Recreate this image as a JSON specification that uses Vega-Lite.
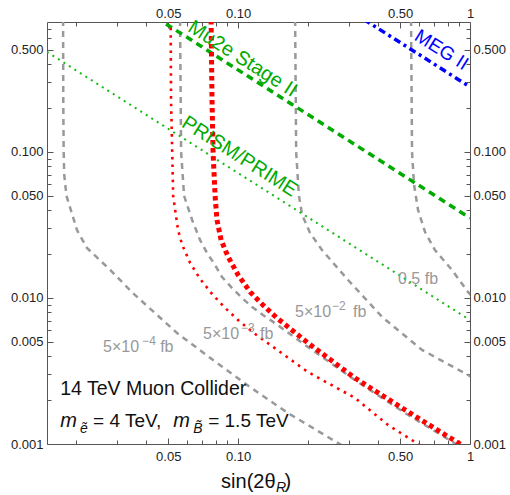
{
  "$schema": "https://vega.github.io/schema/vega-lite/v6.json",
  "width": 423,
  "height": 422,
  "autosize": {"type": "none"},
  "padding": {"left": 47, "top": 22, "right": 40, "bottom": 51},
  "background": "white",
  "config": {
    "view": {"stroke": null},
    "axis": {"domainColor": "#555", "domainWidth": 1, "tickColor": "#555", "tickWidth": 1, "labelFont": "Liberation Sans", "labelFontSize": 13, "labelColor": "#222", "grid": false, "labelFlush": false, "labelOverlap": false},
    "text": {"font": "Liberation Sans"}
  },
  "datasets": {
    "curves": [
      {"c": "g4", "x": 0.0176, "y": 0.8}, {"c": "g4", "x": 0.01763, "y": 0.227}, {"c": "g4", "x": 0.0177, "y": 0.1}, {"c": "g4", "x": 0.0178, "y": 0.0696}, {"c": "g4", "x": 0.0182, "y": 0.05}, {"c": "g4", "x": 0.0202, "y": 0.0292}, {"c": "g4", "x": 0.0223, "y": 0.022}, {"c": "g4", "x": 0.0281, "y": 0.01556}, {"c": "g4", "x": 0.0352, "y": 0.0108}, {"c": "g4", "x": 0.0546, "y": 0.00575}, {"c": "g4", "x": 0.078, "y": 0.00376}, {"c": "g4", "x": 0.1127, "y": 0.00245}, {"c": "g4", "x": 0.164, "y": 0.00163}, {"c": "g4", "x": 0.289, "y": 0.00095}, {"c": "g4", "x": 0.32, "y": 0.00085},
      {"c": "g3", "x": 0.0562, "y": 0.8}, {"c": "g3", "x": 0.0566, "y": 0.2}, {"c": "g3", "x": 0.0568, "y": 0.1}, {"c": "g3", "x": 0.0585, "y": 0.05}, {"c": "g3", "x": 0.0634, "y": 0.0342}, {"c": "g3", "x": 0.0686, "y": 0.0249}, {"c": "g3", "x": 0.0735, "y": 0.0203}, {"c": "g3", "x": 0.0796, "y": 0.0168}, {"c": "g3", "x": 0.0853, "y": 0.0139}, {"c": "g3", "x": 0.0942, "y": 0.0117}, {"c": "g3", "x": 0.104, "y": 0.01}, {"c": "g3", "x": 0.115, "y": 0.00867}, {"c": "g3", "x": 0.128, "y": 0.00765}, {"c": "g3", "x": 0.1416, "y": 0.00686}, {"c": "g3", "x": 0.2, "y": 0.00462}, {"c": "g3", "x": 0.319, "y": 0.00274}, {"c": "g3", "x": 0.525, "y": 0.00163}, {"c": "g3", "x": 0.888, "y": 0.00098}, {"c": "g3", "x": 0.95, "y": 0.0009},
      {"c": "g2", "x": 0.1762, "y": 0.8}, {"c": "g2", "x": 0.178, "y": 0.1}, {"c": "g2", "x": 0.183, "y": 0.05}, {"c": "g2", "x": 0.189, "y": 0.037}, {"c": "g2", "x": 0.2043, "y": 0.0279}, {"c": "g2", "x": 0.23, "y": 0.0213}, {"c": "g2", "x": 0.298, "y": 0.01328}, {"c": "g2", "x": 0.418, "y": 0.00741}, {"c": "g2", "x": 0.621, "y": 0.00441}, {"c": "g2", "x": 0.98, "y": 0.00297}, {"c": "g2", "x": 1.05, "y": 0.0028},
      {"c": "g1", "x": 0.557, "y": 0.8}, {"c": "g1", "x": 0.5624, "y": 0.1}, {"c": "g1", "x": 0.574, "y": 0.0594}, {"c": "g1", "x": 0.597, "y": 0.0401}, {"c": "g1", "x": 0.64, "y": 0.0283}, {"c": "g1", "x": 0.706, "y": 0.0213}, {"c": "g1", "x": 0.836, "y": 0.01556}, {"c": "g1", "x": 0.98, "y": 0.011}, {"c": "g1", "x": 1.05, "y": 0.0098},
      {"c": "T", "x": 0.0765, "y": 0.8}, {"c": "T", "x": 0.0772, "y": 0.227}, {"c": "T", "x": 0.078, "y": 0.1}, {"c": "T", "x": 0.0796, "y": 0.05}, {"c": "T", "x": 0.0811, "y": 0.0342}, {"c": "T", "x": 0.0845, "y": 0.0249}, {"c": "T", "x": 0.0906, "y": 0.0191}, {"c": "T", "x": 0.1, "y": 0.0144}, {"c": "T", "x": 0.1127, "y": 0.011}, {"c": "T", "x": 0.128, "y": 0.00895}, {"c": "T", "x": 0.147, "y": 0.0073}, {"c": "T", "x": 0.2, "y": 0.00492}, {"c": "T", "x": 0.319, "y": 0.00283}, {"c": "T", "x": 0.525, "y": 0.00171}, {"c": "T", "x": 0.924, "y": 0.00098}, {"c": "T", "x": 0.97, "y": 0.00092},
      {"c": "t", "x": 0.0512, "y": 0.8}, {"c": "t", "x": 0.0514, "y": 0.227}, {"c": "t", "x": 0.052, "y": 0.1}, {"c": "t", "x": 0.0525, "y": 0.05}, {"c": "t", "x": 0.0551, "y": 0.0292}, {"c": "t", "x": 0.0574, "y": 0.0231}, {"c": "t", "x": 0.0621, "y": 0.0174}, {"c": "t", "x": 0.0686, "y": 0.0135}, {"c": "t", "x": 0.0773, "y": 0.01064}, {"c": "t", "x": 0.0879, "y": 0.00855}, {"c": "t", "x": 0.101, "y": 0.00696}, {"c": "t", "x": 0.117, "y": 0.00575}, {"c": "t", "x": 0.136, "y": 0.00484}, {"c": "t", "x": 0.2, "y": 0.00311}, {"c": "t", "x": 0.319, "y": 0.00207}, {"c": "t", "x": 0.443, "y": 0.00135}, {"c": "t", "x": 0.609, "y": 0.00098}, {"c": "t", "x": 0.65, "y": 0.00091},
      {"c": "mu2e", "x": 0.04, "y": 0.923}, {"c": "mu2e", "x": 1, "y": 0.0353},
      {"c": "prism", "x": 0.015, "y": 0.484}, {"c": "prism", "x": 1, "y": 0.00706},
      {"c": "meg", "x": 0.3, "y": 0.94}, {"c": "meg", "x": 1, "y": 0.279}
    ],
    "contourBase": [
      {"x": 0.02618, "y": 0.004287, "t": "5×10"},
      {"x": 0.04612, "y": 0.004287, "t": "fb"},
      {"x": 0.07064, "y": 0.005214, "t": "5×10"},
      {"x": 0.12437, "y": 0.005214, "t": "fb"},
      {"x": 0.1761, "y": 0.007444, "t": "5×10"},
      {"x": 0.3132, "y": 0.007444, "t": "fb"},
      {"x": 0.4894, "y": 0.012467, "t": "0.5 fb"}
    ],
    "contourExp": [
      {"x": 0.03857, "y": 0.004786, "t": "−4"},
      {"x": 0.10301, "y": 0.005823, "t": "−3"},
      {"x": 0.2542, "y": 0.008316, "t": "−2"}
    ],
    "lineOne": [
      {"x": 0.0171, "y": 0.002168, "t": "14 TeV Muon Collider"}
    ],
    "plainText": [
      {"x": 0.0237, "y": 0.001307, "t": "= 4 TeV,"},
      {"x": 0.0743, "y": 0.001307, "t": "= 1.5 TeV"}
    ],
    "italicText": [
      {"x": 0.0171, "y": 0.001307, "t": "m"},
      {"x": 0.0525, "y": 0.001307, "t": "m"}
    ],
    "subText": [
      {"x": 0.02084, "y": 0.00119, "t": "ẽ"},
      {"x": 0.064, "y": 0.00119, "t": "B̃"}
    ],
    "greenLabels": [
      {"x": 0.1046, "y": 0.4335, "t": "Mu2e Stage II"},
      {"x": 0.1015, "y": 0.0931, "t": "PRISM/PRIME"}
    ],
    "blueLabels": [
      {"x": 0.754, "y": 0.4996, "t": "MEG II"}
    ],
    "titleMain": [
      {"x": 0.1451, "y": 0.000499, "t": "sin(2θ"}
    ],
    "titleSub": [
      {"x": 0.1456, "y": 0.000469, "t": "R"}
    ],
    "titleEnd": [
      {"x": 0.1586, "y": 0.000499, "t": ")"}
    ]
  },
  "layer": [
    {
      "data": {"name": "curves"},
      "transform": [{"filter": "indexof(['g1','g2','g3','g4'], datum.c) >= 0"}],
      "mark": {"type": "line", "stroke": "#999999", "strokeWidth": 2.5, "strokeDash": [6, 5], "clip": true},
      "encoding": {
        "x": {"field": "x", "type": "quantitative", "scale": {"type": "log", "domain": [0.015, 1], "nice": false},
          "axis": {"orient": "bottom", "title": null, "values": [0.02, 0.03, 0.04, 0.05, 0.06, 0.07, 0.08, 0.09, 0.1, 0.2, 0.3, 0.4, 0.5, 0.6, 0.7, 0.8, 0.9, 1],
            "labelExpr": "datum.value == 1 ? '1' : (indexof([0.05, 0.1, 0.5], datum.value) >= 0 ? format(datum.value, '.2f') : '')",
            "tickSize": {"condition": {"test": "indexof([0.05, 0.1, 0.5, 1], datum.value) >= 0", "value": -6}, "value": -4},
            "labelPadding": 12}},
        "y": {"field": "y", "type": "quantitative", "scale": {"type": "log", "domain": [0.001, 0.776], "nice": false},
          "axis": {"orient": "left", "title": null, "values": [0.001, 0.002, 0.003, 0.004, 0.005, 0.006, 0.007, 0.008, 0.009, 0.01, 0.02, 0.03, 0.04, 0.05, 0.06, 0.07, 0.08, 0.09, 0.1, 0.2, 0.3, 0.4, 0.5, 0.6, 0.7],
            "labelExpr": "indexof([0.001, 0.005, 0.01, 0.05, 0.1, 0.5], datum.value) >= 0 ? format(datum.value, '.3f') : ''",
            "tickSize": {"condition": {"test": "indexof([0.001, 0.005, 0.01, 0.05, 0.1, 0.5], datum.value) >= 0", "value": -6}, "value": -4},
            "labelPadding": 10}},
        "detail": {"field": "c"},
        "order": {"field": "y", "sort": "descending"}
      }
    },
    {
      "data": {"name": "curves"},
      "transform": [{"filter": "datum.c == 'prism'"}],
      "mark": {"type": "line", "stroke": "#11bb11", "strokeWidth": 2, "strokeDash": [2, 4.5], "clip": true},
      "encoding": {
        "x": {"field": "x", "type": "quantitative", "scale": {"type": "log", "domain": [0.015, 1], "nice": false},
          "axis": {"orient": "top", "title": null, "values": [0.02, 0.03, 0.04, 0.05, 0.06, 0.07, 0.08, 0.09, 0.1, 0.2, 0.3, 0.4, 0.5, 0.6, 0.7, 0.8, 0.9, 1],
            "labelExpr": "datum.value == 1 ? '1' : (indexof([0.05, 0.1, 0.5], datum.value) >= 0 ? format(datum.value, '.2f') : '')",
            "tickSize": {"condition": {"test": "indexof([0.05, 0.1, 0.5, 1], datum.value) >= 0", "value": -6}, "value": -4},
            "labelPadding": 8}},
        "y": {"field": "y", "type": "quantitative", "scale": {"type": "log", "domain": [0.001, 0.776], "nice": false},
          "axis": {"orient": "right", "title": null, "values": [0.001, 0.002, 0.003, 0.004, 0.005, 0.006, 0.007, 0.008, 0.009, 0.01, 0.02, 0.03, 0.04, 0.05, 0.06, 0.07, 0.08, 0.09, 0.1, 0.2, 0.3, 0.4, 0.5, 0.6, 0.7],
            "labelExpr": "indexof([0.001, 0.005, 0.01, 0.05, 0.1, 0.5], datum.value) >= 0 ? format(datum.value, '.3f') : ''",
            "tickSize": {"condition": {"test": "indexof([0.001, 0.005, 0.01, 0.05, 0.1, 0.5], datum.value) >= 0", "value": -6}, "value": -4},
            "labelPadding": 9}},
        "order": {"field": "y", "sort": "descending"}
      }
    },
    {
      "data": {"name": "curves"},
      "transform": [{"filter": "datum.c == 'mu2e'"}],
      "mark": {"type": "line", "stroke": "#00aa00", "strokeWidth": 3.5, "strokeDash": [7, 5], "clip": true},
      "encoding": {
        "x": {"field": "x", "type": "quantitative", "scale": {"type": "log", "domain": [0.015, 1], "nice": false}, "axis": null},
        "y": {"field": "y", "type": "quantitative", "scale": {"type": "log", "domain": [0.001, 0.776], "nice": false}, "axis": null},
        "order": {"field": "y", "sort": "descending"}
      }
    },
    {
      "data": {"name": "curves"},
      "transform": [{"filter": "datum.c == 'meg'"}],
      "mark": {"type": "line", "stroke": "#0000ff", "strokeWidth": 3.5, "strokeDash": [7, 4, 3, 4], "clip": true},
      "encoding": {
        "x": {"field": "x", "type": "quantitative", "scale": {"type": "log", "domain": [0.015, 1], "nice": false}, "axis": null},
        "y": {"field": "y", "type": "quantitative", "scale": {"type": "log", "domain": [0.001, 0.776], "nice": false}, "axis": null},
        "order": {"field": "y", "sort": "descending"}
      }
    },
    {
      "data": {"name": "curves"},
      "transform": [{"filter": "datum.c == 't'"}],
      "mark": {"type": "line", "stroke": "#ff0000", "strokeWidth": 2.6, "strokeDash": [2.6, 5], "clip": true},
      "encoding": {
        "x": {"field": "x", "type": "quantitative", "scale": {"type": "log", "domain": [0.015, 1], "nice": false}, "axis": null},
        "y": {"field": "y", "type": "quantitative", "scale": {"type": "log", "domain": [0.001, 0.776], "nice": false}, "axis": null},
        "order": {"field": "y", "sort": "descending"}
      }
    },
    {
      "data": {"name": "curves"},
      "transform": [{"filter": "datum.c == 'T'"}],
      "mark": {"type": "line", "stroke": "#ff0000", "strokeWidth": 5, "strokeDash": [4.5, 3.5], "clip": true},
      "encoding": {
        "x": {"field": "x", "type": "quantitative", "scale": {"type": "log", "domain": [0.015, 1], "nice": false}, "axis": null},
        "y": {"field": "y", "type": "quantitative", "scale": {"type": "log", "domain": [0.001, 0.776], "nice": false}, "axis": null},
        "order": {"field": "y", "sort": "descending"}
      }
    },
    {
      "data": {"name": "contourBase"},
      "mark": {"type": "text", "fill": "#999999", "fontSize": 16, "align": "left", "baseline": "alphabetic"},
      "encoding": {
        "x": {"field": "x", "type": "quantitative", "scale": {"type": "log", "domain": [0.015, 1], "nice": false}, "axis": null},
        "y": {"field": "y", "type": "quantitative", "scale": {"type": "log", "domain": [0.001, 0.776], "nice": false}, "axis": null},
        "text": {"field": "t"}
      }
    },
    {
      "data": {"name": "contourExp"},
      "mark": {"type": "text", "fill": "#999999", "fontSize": 12, "align": "left", "baseline": "alphabetic"},
      "encoding": {
        "x": {"field": "x", "type": "quantitative", "scale": {"type": "log", "domain": [0.015, 1], "nice": false}, "axis": null},
        "y": {"field": "y", "type": "quantitative", "scale": {"type": "log", "domain": [0.001, 0.776], "nice": false}, "axis": null},
        "text": {"field": "t"}
      }
    },
    {
      "data": {"name": "lineOne"},
      "mark": {"type": "text", "fill": "#111111", "fontSize": 19.5, "align": "left", "baseline": "alphabetic"},
      "encoding": {
        "x": {"field": "x", "type": "quantitative", "scale": {"type": "log", "domain": [0.015, 1], "nice": false}, "axis": null},
        "y": {"field": "y", "type": "quantitative", "scale": {"type": "log", "domain": [0.001, 0.776], "nice": false}, "axis": null},
        "text": {"field": "t"}
      }
    },
    {
      "data": {"name": "plainText"},
      "mark": {"type": "text", "fill": "#111111", "fontSize": 19, "align": "left", "baseline": "alphabetic"},
      "encoding": {
        "x": {"field": "x", "type": "quantitative", "scale": {"type": "log", "domain": [0.015, 1], "nice": false}, "axis": null},
        "y": {"field": "y", "type": "quantitative", "scale": {"type": "log", "domain": [0.001, 0.776], "nice": false}, "axis": null},
        "text": {"field": "t"}
      }
    },
    {
      "data": {"name": "italicText"},
      "mark": {"type": "text", "fill": "#111111", "fontSize": 20, "fontStyle": "italic", "align": "left", "baseline": "alphabetic"},
      "encoding": {
        "x": {"field": "x", "type": "quantitative", "scale": {"type": "log", "domain": [0.015, 1], "nice": false}, "axis": null},
        "y": {"field": "y", "type": "quantitative", "scale": {"type": "log", "domain": [0.001, 0.776], "nice": false}, "axis": null},
        "text": {"field": "t"}
      }
    },
    {
      "data": {"name": "subText"},
      "mark": {"type": "text", "fill": "#111111", "fontSize": 14, "fontStyle": "italic", "align": "left", "baseline": "alphabetic"},
      "encoding": {
        "x": {"field": "x", "type": "quantitative", "scale": {"type": "log", "domain": [0.015, 1], "nice": false}, "axis": null},
        "y": {"field": "y", "type": "quantitative", "scale": {"type": "log", "domain": [0.001, 0.776], "nice": false}, "axis": null},
        "text": {"field": "t"}
      }
    },
    {
      "data": {"name": "greenLabels"},
      "mark": {"type": "text", "fill": "#00aa00", "fontSize": 20, "angle": 32.5, "align": "center", "baseline": "middle"},
      "encoding": {
        "x": {"field": "x", "type": "quantitative", "scale": {"type": "log", "domain": [0.015, 1], "nice": false}, "axis": null},
        "y": {"field": "y", "type": "quantitative", "scale": {"type": "log", "domain": [0.001, 0.776], "nice": false}, "axis": null},
        "text": {"field": "t"}
      }
    },
    {
      "data": {"name": "blueLabels"},
      "mark": {"type": "text", "fill": "#0000ff", "fontSize": 19, "angle": 32, "align": "center", "baseline": "middle", "clip": true},
      "encoding": {
        "x": {"field": "x", "type": "quantitative", "scale": {"type": "log", "domain": [0.015, 1], "nice": false}, "axis": null},
        "y": {"field": "y", "type": "quantitative", "scale": {"type": "log", "domain": [0.001, 0.776], "nice": false}, "axis": null},
        "text": {"field": "t"}
      }
    },
    {
      "data": {"name": "titleMain"},
      "mark": {"type": "text", "fill": "#111111", "fontSize": 20, "align": "right", "baseline": "alphabetic"},
      "encoding": {
        "x": {"field": "x", "type": "quantitative", "scale": {"type": "log", "domain": [0.015, 1], "nice": false}, "axis": null},
        "y": {"field": "y", "type": "quantitative", "scale": {"type": "log", "domain": [0.001, 0.776], "nice": false}, "axis": null},
        "text": {"field": "t"}
      }
    },
    {
      "data": {"name": "titleSub"},
      "mark": {"type": "text", "fill": "#111111", "fontSize": 14, "fontStyle": "italic", "align": "left", "baseline": "alphabetic"},
      "encoding": {
        "x": {"field": "x", "type": "quantitative", "scale": {"type": "log", "domain": [0.015, 1], "nice": false}, "axis": null},
        "y": {"field": "y", "type": "quantitative", "scale": {"type": "log", "domain": [0.001, 0.776], "nice": false}, "axis": null},
        "text": {"field": "t"}
      }
    },
    {
      "data": {"name": "titleEnd"},
      "mark": {"type": "text", "fill": "#111111", "fontSize": 20, "align": "left", "baseline": "alphabetic"},
      "encoding": {
        "x": {"field": "x", "type": "quantitative", "scale": {"type": "log", "domain": [0.015, 1], "nice": false}, "axis": null},
        "y": {"field": "y", "type": "quantitative", "scale": {"type": "log", "domain": [0.001, 0.776], "nice": false}, "axis": null},
        "text": {"field": "t"}
      }
    }
  ],
  "resolve": {"axis": {"x": "independent", "y": "independent"}}
}
